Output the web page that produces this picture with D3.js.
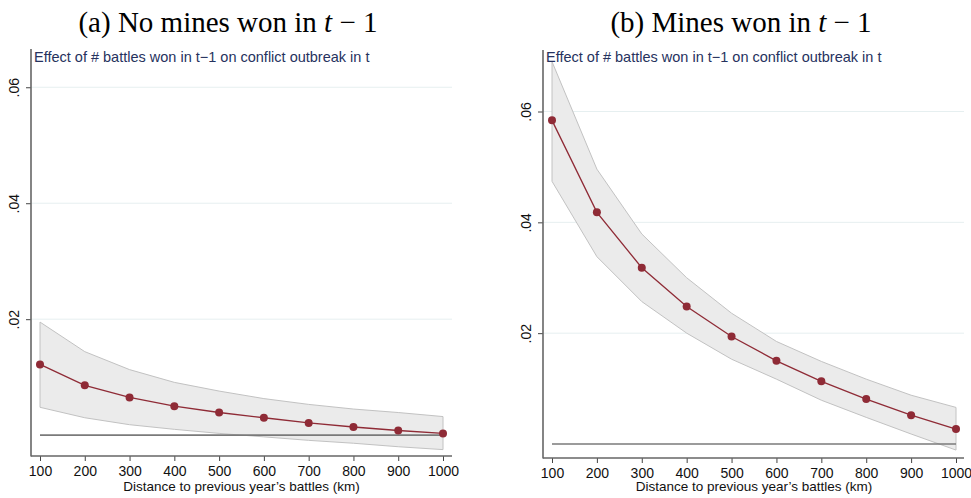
<!DOCTYPE html>
<html><head><meta charset="utf-8">
<script src="https://cdn.jsdelivr.net/npm/d3@7"></script>
<style>body{margin:0;background:#fff}svg{display:block}</style>
</head><body>
<svg id="c" width="971" height="498"></svg>
<script>
const distances = [100,200,300,400,500,600,700,800,900,1000];
const yTicks = [0.02,0.04,0.06];
const yTickLabels = [".02",".04",".06"];
const subtitle = "Effect of # battles won in t\u22121 on conflict outbreak in t";
const xTitle = "Distance to previous year\u2019s battles (km)";

// Panel (a): No mines won in t-1
const aEst = [0.0122,0.0086,0.0065,0.0050,0.0039,0.0030,0.0021,0.0014,0.0008,0.0003];
const aHi  = [0.0195,0.0144,0.0113,0.0091,0.0076,0.0063,0.0053,0.0045,0.0039,0.0032];
const aLo  = [0.0048,0.0030,0.0018,0.0010,0.0003,-0.0003,-0.0009,-0.0014,-0.0020,-0.0025];
// Panel (b): Mines won in t-1
const bEst = [0.0584,0.0418,0.0318,0.0248,0.0194,0.0150,0.0113,0.0081,0.0052,0.0027];
const bHi  = [0.0690,0.0496,0.0379,0.0300,0.0236,0.0185,0.0149,0.0117,0.0088,0.0066];
const bLo  = [0.0474,0.0338,0.0257,0.0200,0.0153,0.0117,0.0079,0.0048,0.0018,-0.0011];

const svg = d3.select("#c");
const sans = "'Liberation Sans',Arial,Helvetica,sans-serif";

function panel(opt){
  const g = svg.append("g");
  const x = d3.scaleLinear().domain([100,1000]).range([opt.x0,opt.x1]);
  const y = d3.scaleLinear().domain(opt.yDom).range([opt.yBot,opt.yTop]);
  // title
  const t = g.append("text").attr("x",opt.cx).attr("y",32).attr("text-anchor","middle")
    .style("font-family","'Liberation Serif','DejaVu Serif',serif").style("font-size","29px")
    .style("font-weight","normal").attr("fill","#000");
  t.append("tspan").text(opt.title+" ");
  t.append("tspan").style("font-style","italic").text("t");
  t.append("tspan").text(" \u2212 1");
  // gridlines
  g.selectAll(".grid").data(yTicks).enter().append("line")
    .attr("x1",opt.axX).attr("x2",opt.axR).attr("y1",d=>y(d)).attr("y2",d=>y(d))
    .attr("stroke","#e6eff0").attr("stroke-width",1);
  // CI band
  const area = d3.area().x((d,i)=>x(distances[i])).y0((d,i)=>y(opt.lo[i])).y1((d,i)=>y(opt.hi[i]));
  g.append("path").attr("d",area(distances)).attr("fill","#ebebeb").attr("stroke","#c2c2c2").attr("stroke-width",1);
  // zero line
  g.append("line").attr("x1",x(100)).attr("x2",x(1000)).attr("y1",y(0)).attr("y2",y(0))
    .attr("stroke","#7a7a7a").attr("stroke-width",1.7);
  // estimate line
  const line = d3.line().x((d,i)=>x(distances[i])).y((d,i)=>y(opt.est[i]));
  g.append("path").attr("d",line(distances)).attr("fill","none").attr("stroke","#8f2b36").attr("stroke-width",1.3);
  g.selectAll(".pt").data(opt.est).enter().append("circle")
    .attr("cx",(d,i)=>x(distances[i])).attr("cy",d=>y(d)).attr("r",4).attr("fill","#8f2b36");
  // axes
  const ya = g.append("g").attr("transform",`translate(${opt.axX},0)`)
    .call(d3.axisLeft(y).tickValues(yTicks).tickFormat((d,i)=>yTickLabels[i]).tickSize(5).tickSizeOuter(0));
  ya.select(".domain").remove();
  ya.selectAll("line").attr("stroke","#444");
  ya.selectAll("text").attr("x",0).attr("y",0).attr("dy",null)
    .attr("fill","#111").style("font-family",sans).style("font-size","14px")
    .attr("text-anchor","middle")
    .attr("transform","translate(-12,0) rotate(-90)");
  g.append("line").attr("x1",opt.axX).attr("x2",opt.axX).attr("y1",opt.yTop).attr("y2",opt.yBot+0.5)
    .attr("stroke","#666").attr("stroke-width",1.6);
  const xa = g.append("g").attr("transform",`translate(0,${opt.yBot})`)
    .call(d3.axisBottom(x).tickValues(distances).tickFormat(d3.format("d")).tickSize(5).tickSizeOuter(0));
  xa.select(".domain").remove();
  xa.selectAll("line").attr("stroke","#444");
  xa.selectAll("text").attr("fill","#111").attr("dy","0.71em").attr("y",10)
    .style("font-family",sans).style("font-size","14px");
  g.append("line").attr("x1",opt.axX).attr("x2",opt.axR).attr("y1",opt.yBot).attr("y2",opt.yBot)
    .attr("stroke","#666").attr("stroke-width",1.6);
  g.append("text").attr("x",(x(100)+x(1000))/2).attr("y",491).attr("text-anchor","middle")
    .attr("fill","#111").style("font-family",sans).style("font-size","13.5px")
    .text(xTitle);
  g.append("text").attr("x",opt.axX+3).attr("y",62).attr("fill","#26325e")
    .style("font-family",sans).style("font-size","14.5px").text(subtitle);
}

panel({title:"(a) No mines won in", cx:228, x0:40, x1:443, axX:31, axR:452, yTop:49, yBot:456,
  yDom:[-0.0036,0.0666], est:aEst, hi:aHi, lo:aLo});
panel({title:"(b) Mines won in", cx:741, x0:552, x1:956, axX:543, axR:964, yTop:50, yBot:458,
  yDom:[-0.00253,0.0711], est:bEst, hi:bHi, lo:bLo});
</script>
</body></html>
